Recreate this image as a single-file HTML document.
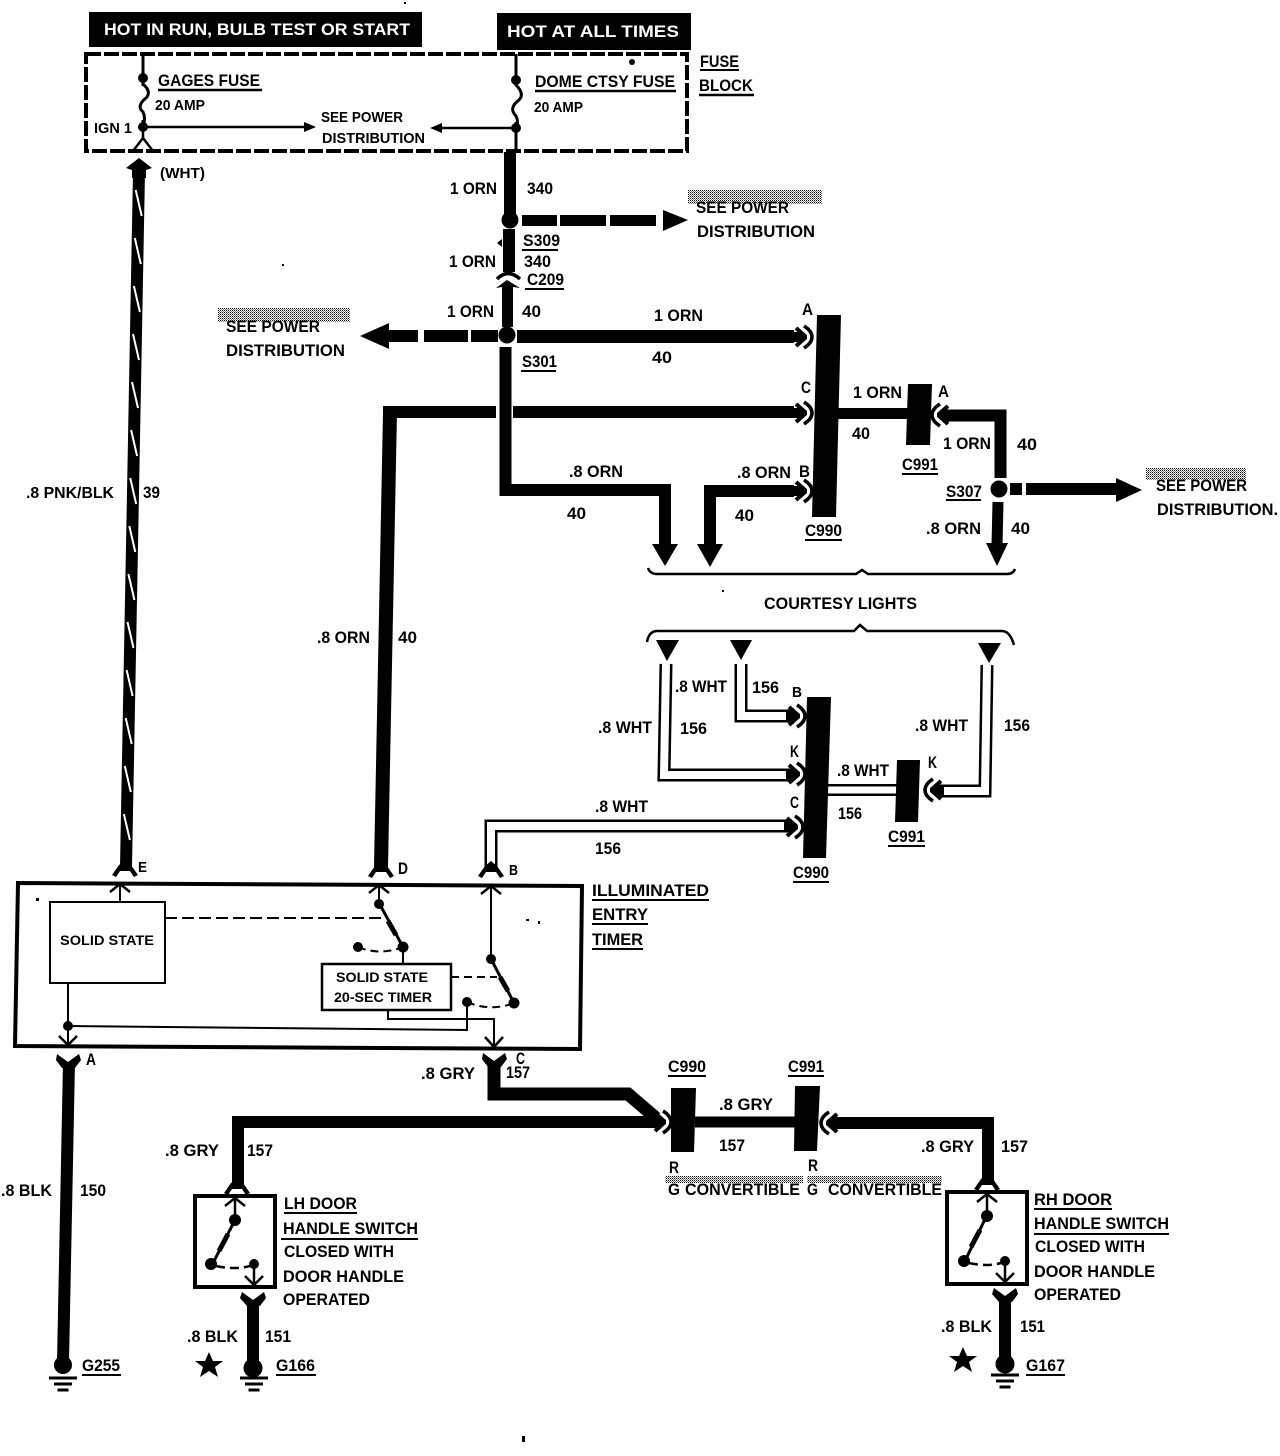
<!DOCTYPE html>
<html><head><meta charset="utf-8"><title>Illuminated Entry Wiring Diagram</title>
<style>
html,body{margin:0;padding:0;background:#fff}
svg{display:block}
text{font-family:"Liberation Sans",sans-serif;font-weight:bold;font-size:17px;fill:#000}
.w{fill:#fff}
.f{fill:none;stroke:#000}
</style></head><body>
<svg xmlns="http://www.w3.org/2000/svg" width="1280" height="1456" viewBox="0 0 1280 1456">
<defs>
<pattern id="dith" width="2" height="2" patternUnits="userSpaceOnUse"><rect width="1" height="1" fill="#000"/><rect x="1" y="1" width="1" height="1" fill="#777"/></pattern>
<g id="chev"><path d="M-11,-5 L-5,-5 L1,0 L-5,5 L-11,5Z"/><path class="f" stroke-width="4" d="M-8,-9 L1,-1 V1 L-8,9"/><path class="f" stroke-width="3.5" d="M0,-11 Q8,-6 8,0 Q8,6 0,11"/></g>
<g id="prong"><path fill="#000" d="M-13,9 L-6,-1 L0,-6 L6,-1 L13,9 L9,11 L5,5 L-5,5 L-9,11 Z"/></g>
<g id="ah"><path class="f" stroke-width="2.5" d="M-10,8 L0,0 L10,8"/></g>
<g id="gnd"><path class="f" stroke-width="3" d="M-14,0H14M-9,6H9M-5.500,12H5.500"/></g>
</defs>
<rect width="1280" height="1456" fill="#fff"/>

<!-- dither patches -->
<rect x="688" y="190" width="134" height="14" fill="url(#dith)"/>
<rect x="218" y="308" width="132" height="14" fill="url(#dith)"/>
<rect x="1146" y="468" width="100" height="12" fill="url(#dith)"/>
<rect x="665" y="1176" width="138" height="7" fill="url(#dith)"/>
<rect x="807" y="1176" width="135" height="7" fill="url(#dith)"/>

<!-- specks -->
<g>
<rect x="404" y="2" width="2" height="2"/><rect x="36" y="898" width="3" height="3"/><rect x="526" y="919" width="3" height="2"/><rect x="538" y="921" width="2" height="3"/><rect x="722" y="590" width="2" height="2"/><rect x="282" y="264" width="2" height="2"/><rect x="522" y="1436" width="3" height="6"/>
</g>

<!-- top labels -->
<rect x="89" y="12" width="333" height="35" fill="#000"/>
<rect x="497" y="13" width="194" height="37" fill="#000"/>
<text class="w" x="104" y="35" textLength="306" lengthAdjust="spacingAndGlyphs">HOT IN RUN, BULB TEST OR START</text>
<text class="w" x="507" y="37" textLength="172" lengthAdjust="spacingAndGlyphs">HOT AT ALL TIMES</text>

<!-- fuse block -->
<rect x="86" y="54" width="601" height="97" class="f" stroke-width="4" stroke-dasharray="15 3"/>
<path class="f" stroke-width="3" d="M143,54V126M516,54V152"/>
<rect x="137" y="86" width="12" height="34" fill="#fff"/>
<rect x="510" y="86" width="12" height="36" fill="#fff"/>
<path class="f" stroke-width="3" d="M143,84 Q152,92 146,98 Q136,106 143,112 Q146,118 143,126"/>
<path class="f" stroke-width="3" d="M516,85 Q525,94 519,100 Q508,108 516,116 Q519,122 516,128"/>
<circle cx="143" cy="78" r="5"/><circle cx="143" cy="127" r="5"/>
<circle cx="516" cy="80" r="5"/><circle cx="516" cy="128" r="5"/>
<circle cx="632" cy="62" r="3"/>
<path class="f" stroke-width="2.5" d="M143,127V138M143,138L133,151M143,138L153,151"/>
<path class="f" stroke-width="2.5" d="M143,127H305M516,128H438"/>
<path d="M316,127L304,122V132Z M430,128L442,123V133Z"/>
<text x="158" y="86" textLength="102" lengthAdjust="spacingAndGlyphs">GAGES FUSE</text><path class="f" stroke-width="2.5" d="M158,90H262"/>
<text x="155" y="110" style="font-size:15px" textLength="50" lengthAdjust="spacingAndGlyphs">20 AMP</text>
<text x="535" y="87" textLength="140" lengthAdjust="spacingAndGlyphs">DOME CTSY FUSE</text><path class="f" stroke-width="2.5" d="M535,91H676"/>
<text x="534" y="112" style="font-size:15px" textLength="49" lengthAdjust="spacingAndGlyphs">20 AMP</text>
<text x="94" y="133" style="font-size:15px" textLength="38" lengthAdjust="spacingAndGlyphs">IGN 1</text>
<text x="321" y="122" style="font-size:15px" textLength="82" lengthAdjust="spacingAndGlyphs">SEE POWER</text>
<text x="322" y="143" style="font-size:15px" textLength="103" lengthAdjust="spacingAndGlyphs">DISTRIBUTION</text>
<text x="700" y="67" textLength="39" lengthAdjust="spacingAndGlyphs">FUSE</text><path class="f" stroke-width="2" d="M700,70H739"/>
<text x="699" y="91" textLength="54" lengthAdjust="spacingAndGlyphs">BLOCK</text><path class="f" stroke-width="2.5" d="M699,95H754"/>
<text x="160" y="178" style="font-size:15px" textLength="45" lengthAdjust="spacingAndGlyphs">(WHT)</text>

<!-- left pnk/blk wire -->
<path class="f" stroke-width="12" d="M139,172L126,866"/>
<path fill="none" stroke="#fff" stroke-width="2" d="M135.700,190l6,26M134.800,238l6,26M133.900,286l6,26M133,334l6,26M132,382l6,26M131.100,430l6,26M130.200,478l6,26M129.300,526l6,26M128.400,574l6,26M127.500,622l6,26M126.600,670l6,26M125.700,718l6,26M124.800,766l6,26M123.900,814l6,26"/>
<path d="M139,158L152,168L146,170L146,178H132V170L126,168Z"/>
<use href="#prong" x="125" y="866"/>
<text x="26" y="498" style="font-size:16px" textLength="88" lengthAdjust="spacingAndGlyphs">.8 PNK/BLK</text>
<text x="143" y="498" textLength="17" lengthAdjust="spacingAndGlyphs">39</text>

<!-- main orn -->
<path class="f" stroke-width="12" d="M510,152V214"/>
<circle cx="510" cy="220" r="8.500"/>
<path class="f" stroke-width="11" d="M522,220.500H557M560,220.500H606M610,220.500H656"/>
<path d="M663,210L688,220L663,231Z"/>
<path class="f" stroke-width="12" d="M509,229V272"/>
<path d="M502,239L497,243L502,247Z"/>
<path class="f" stroke-width="3.500" d="M497,279Q508,268 520,279"/>
<path d="M507,280L520,288L513,287V327H502V287L496,288Z"/>
<circle cx="507" cy="335" r="8.500"/>
<path class="f" stroke-width="13" d="M517,336.500H794"/>
<path class="f" stroke-width="12" d="M389,336H418M424,336H468M471,336H498"/>
<path d="M389,323L360,336L389,349Z"/>
<use href="#chev" x="804" y="337"/>
<text x="450" y="194" textLength="47" lengthAdjust="spacingAndGlyphs">1 ORN</text><text x="527" y="194" textLength="26" lengthAdjust="spacingAndGlyphs">340</text>
<text x="696" y="213" textLength="93" lengthAdjust="spacingAndGlyphs">SEE POWER</text>
<text x="697" y="237" textLength="118" lengthAdjust="spacingAndGlyphs">DISTRIBUTION</text>
<text x="523" y="246" textLength="37" lengthAdjust="spacingAndGlyphs">S309</text><path class="f" stroke-width="2" d="M522,250H558"/>
<text x="449" y="267" textLength="47" lengthAdjust="spacingAndGlyphs">1 ORN</text><text x="524" y="267" textLength="27" lengthAdjust="spacingAndGlyphs">340</text>
<text x="527" y="285" textLength="37" lengthAdjust="spacingAndGlyphs">C209</text><path class="f" stroke-width="2" d="M525,289H564"/>
<text x="447" y="317" textLength="47" lengthAdjust="spacingAndGlyphs">1 ORN</text><text x="522" y="317" textLength="19" lengthAdjust="spacingAndGlyphs">40</text>
<text x="226" y="332" textLength="94" lengthAdjust="spacingAndGlyphs">SEE POWER</text>
<text x="226" y="356" textLength="119" lengthAdjust="spacingAndGlyphs">DISTRIBUTION</text>
<text x="522" y="367" textLength="35" lengthAdjust="spacingAndGlyphs">S301</text><path class="f" stroke-width="2" d="M521,371H556"/>
<text x="654" y="321" textLength="49" lengthAdjust="spacingAndGlyphs">1 ORN</text>
<text x="802" y="315" textLength="11" lengthAdjust="spacingAndGlyphs">A</text>
<text x="652" y="363" textLength="20" lengthAdjust="spacingAndGlyphs">40</text>

<!-- C wire to timer D -->
<path class="f" stroke-width="14" d="M390,412L381,867"/>
<path class="f" stroke-width="12" d="M383,412H496M513,412H794"/>
<use href="#chev" x="804" y="413"/>
<use href="#prong" x="381" y="867"/>
<text x="801" y="393" textLength="10" lengthAdjust="spacingAndGlyphs">C</text>
<text x="317" y="643" textLength="53" lengthAdjust="spacingAndGlyphs">.8 ORN</text>
<text x="398" y="643" textLength="19" lengthAdjust="spacingAndGlyphs">40</text>

<!-- C990 upper -->
<path d="M817,315H841L836,517H812Z"/>
<text x="805" y="536" textLength="37" lengthAdjust="spacingAndGlyphs">C990</text><path class="f" stroke-width="2" d="M805,540H842"/>

<!-- to C991 upper -->
<path class="f" stroke-width="11" d="M838,413.500H908"/>
<path d="M908,384H932L930,445H906Z"/>
<use href="#chev" x="940" y="415" transform="rotate(180 940 415)"/>
<path class="f" stroke-width="12" d="M945,415.500H1000.500V478"/>
<circle cx="999" cy="489" r="8.500"/>
<path class="f" stroke-width="12" d="M1010,489H1022M1026,489H1120"/>
<path d="M1116,478L1142,490L1116,502Z"/>
<path class="f" stroke-width="11" d="M998,502L997,546"/>
<path d="M986,543H1008L997,566Z"/>
<text x="853" y="398" textLength="49" lengthAdjust="spacingAndGlyphs">1 ORN</text>
<text x="938" y="397" textLength="11" lengthAdjust="spacingAndGlyphs">A</text>
<text x="852" y="439" textLength="18" lengthAdjust="spacingAndGlyphs">40</text>
<text x="943" y="449" textLength="48" lengthAdjust="spacingAndGlyphs">1 ORN</text>
<text x="1017" y="450" textLength="20" lengthAdjust="spacingAndGlyphs">40</text>
<text x="902" y="470" textLength="36" lengthAdjust="spacingAndGlyphs">C991</text><path class="f" stroke-width="2" d="M902,474H938"/>
<text x="946" y="497" textLength="36" lengthAdjust="spacingAndGlyphs">S307</text><path class="f" stroke-width="2" d="M946,500H981"/>
<text x="1156" y="491" textLength="91" lengthAdjust="spacingAndGlyphs">SEE POWER</text>
<text x="1157" y="515" textLength="121" lengthAdjust="spacingAndGlyphs">DISTRIBUTION.</text>
<text x="926" y="534" textLength="55" lengthAdjust="spacingAndGlyphs">.8 ORN</text>
<text x="1011" y="534" textLength="19" lengthAdjust="spacingAndGlyphs">40</text>

<!-- .8 ORN branches -->
<path class="f" stroke-width="12" d="M505.500,347V490H665V546"/>
<path d="M652,544H678L665,566Z"/>
<path class="f" stroke-width="12" d="M710,546V491H794"/>
<path d="M697,544H723L710,567Z"/>
<use href="#chev" x="804" y="491"/>
<text x="569" y="477" textLength="54" lengthAdjust="spacingAndGlyphs">.8 ORN</text>
<text x="737" y="478" textLength="54" lengthAdjust="spacingAndGlyphs">.8 ORN</text>
<text x="799" y="477" textLength="11" lengthAdjust="spacingAndGlyphs">B</text>
<text x="567" y="519" textLength="19" lengthAdjust="spacingAndGlyphs">40</text>
<text x="735" y="521" textLength="19" lengthAdjust="spacingAndGlyphs">40</text>

<!-- courtesy brackets -->
<path class="f" stroke-width="2.500" d="M648,568Q650,574 657,574H856L862,570L868,574H1007Q1013,574 1015,569"/>
<text x="764" y="609" textLength="153" lengthAdjust="spacingAndGlyphs">COURTESY LIGHTS</text>
<path class="f" stroke-width="2.500" d="M647,642Q649,631 657,631H854L860,625L867,631H1002Q1010,631 1014,645"/>
<path d="M656,640H679L667,661Z M730,640H752L741,660Z M978,643H1001L989,663Z"/>

<!-- white wires -->
<g fill="none" stroke-linejoin="miter">
<path stroke="#000" stroke-width="13" d="M666,664L664,775H790"/><path stroke="#fff" stroke-width="8" d="M666,664L664,775H790"/>
<path stroke="#000" stroke-width="13" d="M741,664V716H790"/><path stroke="#fff" stroke-width="8" d="M741,664V716H790"/>
<path stroke="#000" stroke-width="13" d="M987,665L985,791H937"/><path stroke="#fff" stroke-width="8" d="M987,665L985,791H937"/>
<path stroke="#000" stroke-width="12" d="M826,790H897"/><path stroke="#fff" stroke-width="7" d="M826,790H897"/>
<path stroke="#000" stroke-width="13" d="M491,870V826H788"/><path stroke="#fff" stroke-width="8" d="M491,870V826H788"/>
</g>
<use href="#chev" x="797" y="716"/>
<use href="#chev" x="797" y="774"/>
<use href="#chev" x="795" y="827"/>
<path d="M807,697H831L826,858H803Z"/>
<path d="M897,760H920L918,822H895Z"/>
<use href="#chev" x="933" y="790" transform="rotate(180 933 790)"/>
<use href="#prong" x="491" y="867"/>
<text x="675" y="692" textLength="52" lengthAdjust="spacingAndGlyphs">.8 WHT</text>
<text x="752" y="693" textLength="27" lengthAdjust="spacingAndGlyphs">156</text>
<text x="792" y="697" style="font-size:15px" textLength="10" lengthAdjust="spacingAndGlyphs">B</text>
<text x="598" y="733" textLength="54" lengthAdjust="spacingAndGlyphs">.8 WHT</text>
<text x="680" y="734" textLength="27" lengthAdjust="spacingAndGlyphs">156</text>
<text x="915" y="731" textLength="53" lengthAdjust="spacingAndGlyphs">.8 WHT</text>
<text x="1004" y="731" textLength="26" lengthAdjust="spacingAndGlyphs">156</text>
<text x="790" y="757" textLength="9" lengthAdjust="spacingAndGlyphs">K</text>
<text x="928" y="768" textLength="9" lengthAdjust="spacingAndGlyphs">K</text>
<text x="837" y="776" textLength="52" lengthAdjust="spacingAndGlyphs">.8 WHT</text>
<text x="838" y="819" textLength="24" lengthAdjust="spacingAndGlyphs">156</text>
<text x="790" y="808" textLength="9" lengthAdjust="spacingAndGlyphs">C</text>
<text x="595" y="812" textLength="53" lengthAdjust="spacingAndGlyphs">.8 WHT</text>
<text x="595" y="854" textLength="26" lengthAdjust="spacingAndGlyphs">156</text>
<text x="888" y="842" textLength="37" lengthAdjust="spacingAndGlyphs">C991</text><path class="f" stroke-width="2" d="M888,846H925"/>
<text x="793" y="878" textLength="36" lengthAdjust="spacingAndGlyphs">C990</text><path class="f" stroke-width="2" d="M793,882H829"/>
<text x="138" y="872" style="font-size:15px" textLength="9" lengthAdjust="spacingAndGlyphs">E</text>
<text x="398" y="874" textLength="10" lengthAdjust="spacingAndGlyphs">D</text>
<text x="509" y="875" style="font-size:15px" textLength="9" lengthAdjust="spacingAndGlyphs">B</text>

<!-- timer box -->
<path class="f" stroke-width="4" d="M18,883L582,886L580,1049L15,1046Z"/>
<text x="592" y="896" textLength="117" lengthAdjust="spacingAndGlyphs">ILLUMINATED</text><path class="f" stroke-width="2" d="M592,900H709"/>
<text x="592" y="920" textLength="56" lengthAdjust="spacingAndGlyphs">ENTRY</text><path class="f" stroke-width="2" d="M592,924H648"/>
<text x="592" y="945" textLength="51" lengthAdjust="spacingAndGlyphs">TIMER</text><path class="f" stroke-width="2" d="M592,949H643"/>
<rect x="50" y="902" width="115" height="81" class="f" stroke-width="2"/>
<text x="60" y="945" style="font-size:14px" textLength="94" lengthAdjust="spacingAndGlyphs">SOLID STATE</text>
<rect x="322" y="964" width="129" height="46" class="f" stroke-width="2.500"/>
<text x="336" y="982" style="font-size:14px" textLength="92" lengthAdjust="spacingAndGlyphs">SOLID STATE</text>
<text x="334" y="1002" style="font-size:14px" textLength="98" lengthAdjust="spacingAndGlyphs">20-SEC TIMER</text>
<path class="f" stroke-width="2" d="M120,902V885"/>
<use href="#ah" x="120" y="884"/>
<path class="f" stroke-width="2" stroke-dasharray="12 5" d="M165,918H382"/>
<path class="f" stroke-width="2" d="M379,885V903"/><use href="#ah" x="379" y="885"/>
<path class="f" stroke-width="3" d="M379,903L403,947"/>
<path class="f" stroke-width="5" d="M388,921L396,935"/>
<path class="f" stroke-width="2" d="M403,947V964"/>
<circle cx="379" cy="904" r="5"/><circle cx="403" cy="947" r="5.500"/><circle cx="358" cy="947" r="5"/>
<path class="f" stroke-width="2" stroke-dasharray="8 5" d="M358,947Q380,956 403,947"/>
<path class="f" stroke-width="2" d="M491,886V959"/><use href="#ah" x="491" y="886"/>
<path class="f" stroke-width="3" d="M491,959L514,1003"/>
<path class="f" stroke-width="5" d="M500,977L508,991"/>
<circle cx="491" cy="959" r="5"/><circle cx="514" cy="1003" r="5.500"/><circle cx="467" cy="1002" r="5"/>
<path class="f" stroke-width="2" stroke-dasharray="8 5" d="M451,977H497"/>
<path class="f" stroke-width="2" stroke-dasharray="8 5" d="M467,1002Q490,1012 514,1003"/>
<path class="f" stroke-width="2" d="M467,1002V1030L68,1026"/>
<path class="f" stroke-width="2" d="M68,983V1044"/>
<circle cx="68" cy="1026" r="5"/>
<path class="f" stroke-width="2.500" d="M59,1036L68,1045L77,1036"/>
<path class="f" stroke-width="2" d="M388,1010V1019H494V1046"/>
<path class="f" stroke-width="2.500" d="M485,1037L494,1047L503,1037"/>

<!-- A wire -->
<path d="M57,1054L68,1062L79,1054L81,1060L75,1068H62L56,1060Z"/>
<path class="f" stroke-width="12" d="M69,1062L63,1362"/>
<circle cx="63" cy="1365" r="9"/>
<use href="#gnd" x="63" y="1378"/>
<text x="86" y="1065" textLength="10" lengthAdjust="spacingAndGlyphs">A</text>
<text x="1" y="1196" textLength="51" lengthAdjust="spacingAndGlyphs">.8 BLK</text>
<text x="80" y="1196" textLength="26" lengthAdjust="spacingAndGlyphs">150</text>
<text x="82" y="1371" textLength="38" lengthAdjust="spacingAndGlyphs">G255</text><path class="f" stroke-width="2" d="M82,1375H121"/>

<!-- C wire -->
<path d="M483,1053L494,1061L505,1053L507,1059L501,1067H488L482,1059Z"/>
<path class="f" stroke-width="13" stroke-linejoin="miter" d="M494,1062V1094H628L656,1118"/>
<path class="f" stroke-width="12" d="M238,1186V1122H656"/>
<use href="#chev" x="663" y="1122"/>
<path d="M671,1088H696L694,1152H671Z"/>
<path d="M795,1086H820L817,1151H794Z"/>
<path class="f" stroke-width="11" d="M695,1122H797"/>
<use href="#chev" x="829" y="1123" transform="rotate(180 829 1123)"/>
<path class="f" stroke-width="12" d="M834,1123H988V1182"/>
<text x="516" y="1064" textLength="9" lengthAdjust="spacingAndGlyphs">C</text>
<text x="506" y="1078" textLength="24" lengthAdjust="spacingAndGlyphs">157</text>
<text x="421" y="1079" textLength="54" lengthAdjust="spacingAndGlyphs">.8 GRY</text>
<text x="668" y="1072" textLength="38" lengthAdjust="spacingAndGlyphs">C990</text><path class="f" stroke-width="2" d="M668,1076H706"/>
<text x="788" y="1072" textLength="36" lengthAdjust="spacingAndGlyphs">C991</text><path class="f" stroke-width="2" d="M788,1076H824"/>
<text x="719" y="1110" textLength="54" lengthAdjust="spacingAndGlyphs">.8 GRY</text>
<text x="719" y="1151" textLength="26" lengthAdjust="spacingAndGlyphs">157</text>
<text x="669" y="1173" textLength="10" lengthAdjust="spacingAndGlyphs">R</text>
<text x="808" y="1171" textLength="10" lengthAdjust="spacingAndGlyphs">R</text>
<text x="668" y="1195" textLength="12" lengthAdjust="spacingAndGlyphs">G</text>
<text x="685" y="1195" textLength="115" lengthAdjust="spacingAndGlyphs">CONVERTIBLE</text>
<text x="807" y="1195" textLength="11" lengthAdjust="spacingAndGlyphs">G</text>
<text x="828" y="1195" textLength="114" lengthAdjust="spacingAndGlyphs">CONVERTIBLE</text>
<text x="165" y="1156" textLength="54" lengthAdjust="spacingAndGlyphs">.8 GRY</text>
<text x="247" y="1156" textLength="26" lengthAdjust="spacingAndGlyphs">157</text>
<text x="921" y="1152" textLength="53" lengthAdjust="spacingAndGlyphs">.8 GRY</text>
<text x="1001" y="1152" textLength="27" lengthAdjust="spacingAndGlyphs">157</text>

<!-- LH switch -->
<use href="#prong" x="237" y="1184"/>
<rect x="195" y="1196" width="80" height="91" class="f" stroke-width="4"/>
<path class="f" stroke-width="2.500" d="M235,1198V1220"/><use href="#ah" x="235" y="1198"/>
<path class="f" stroke-width="3" d="M235,1220L212,1265"/>
<path class="f" stroke-width="5" d="M228,1234L219,1251"/>
<circle cx="235" cy="1220" r="6"/><circle cx="211" cy="1264" r="6"/><circle cx="254" cy="1264" r="5"/>
<path class="f" stroke-width="2.500" stroke-dasharray="9 5" d="M216,1266Q235,1270 250,1266"/>
<path class="f" stroke-width="2.500" d="M254,1264V1285M245,1276L254,1285L263,1276"/>
<path d="M242,1292L253,1300L264,1292L266,1298L260,1306H247L240,1298Z"/>
<path class="f" stroke-width="12" d="M253,1300V1364"/>
<circle cx="253" cy="1368" r="9.500"/>
<use href="#gnd" x="254" y="1378"/>
<path d="M209,1352L213,1361L223,1361L215,1367L218,1377L209,1371L200,1377L203,1367L195,1361L205,1361Z"/>
<text x="284" y="1209" textLength="73" lengthAdjust="spacingAndGlyphs">LH DOOR</text><path class="f" stroke-width="2" d="M284,1213H357"/>
<text x="283" y="1234" textLength="135" lengthAdjust="spacingAndGlyphs">HANDLE SWITCH</text><path class="f" stroke-width="2" d="M281,1239H418"/>
<text x="284" y="1257" textLength="110" lengthAdjust="spacingAndGlyphs">CLOSED WITH</text>
<text x="283" y="1282" textLength="121" lengthAdjust="spacingAndGlyphs">DOOR HANDLE</text>
<text x="283" y="1305" textLength="87" lengthAdjust="spacingAndGlyphs">OPERATED</text>
<text x="187" y="1342" textLength="51" lengthAdjust="spacingAndGlyphs">.8 BLK</text>
<text x="265" y="1342" textLength="26" lengthAdjust="spacingAndGlyphs">151</text>
<text x="276" y="1371" textLength="39" lengthAdjust="spacingAndGlyphs">G166</text><path class="f" stroke-width="2" d="M276,1375H316"/>

<!-- RH switch -->
<use href="#prong" x="987" y="1180"/>
<rect x="947" y="1192" width="80" height="92" class="f" stroke-width="4"/>
<path class="f" stroke-width="2.500" d="M987,1194V1215"/><use href="#ah" x="987" y="1194"/>
<path class="f" stroke-width="3" d="M987,1215L965,1261"/>
<path class="f" stroke-width="5" d="M980,1230L971,1247"/>
<circle cx="987" cy="1216" r="6"/><circle cx="964" cy="1261" r="6"/><circle cx="1005" cy="1261" r="5"/>
<path class="f" stroke-width="2.500" stroke-dasharray="9 5" d="M969,1263Q987,1267 1001,1263"/>
<path class="f" stroke-width="2.500" d="M1005,1261V1282M996,1273L1005,1282L1014,1273"/>
<path d="M994,1288L1005,1296L1016,1288L1018,1294L1012,1302H999L992,1294Z"/>
<path class="f" stroke-width="12" d="M1005,1296V1360"/>
<circle cx="1005" cy="1364" r="9.500"/>
<use href="#gnd" x="1005" y="1375"/>
<path d="M963,1347L967,1356L977,1356L969,1362L972,1372L963,1366L954,1372L957,1362L949,1356L959,1356Z"/>
<text x="1034" y="1205" textLength="78" lengthAdjust="spacingAndGlyphs">RH DOOR</text><path class="f" stroke-width="2" d="M1034,1209H1112"/>
<text x="1034" y="1229" textLength="135" lengthAdjust="spacingAndGlyphs">HANDLE SWITCH</text><path class="f" stroke-width="2" d="M1034,1234H1169"/>
<text x="1035" y="1252" textLength="110" lengthAdjust="spacingAndGlyphs">CLOSED WITH</text>
<text x="1034" y="1277" textLength="121" lengthAdjust="spacingAndGlyphs">DOOR HANDLE</text>
<text x="1034" y="1300" textLength="87" lengthAdjust="spacingAndGlyphs">OPERATED</text>
<text x="941" y="1332" textLength="51" lengthAdjust="spacingAndGlyphs">.8 BLK</text>
<text x="1020" y="1332" textLength="25" lengthAdjust="spacingAndGlyphs">151</text>
<text x="1026" y="1371" textLength="39" lengthAdjust="spacingAndGlyphs">G167</text><path class="f" stroke-width="2" d="M1026,1375H1065"/>
</svg>
</body></html>
